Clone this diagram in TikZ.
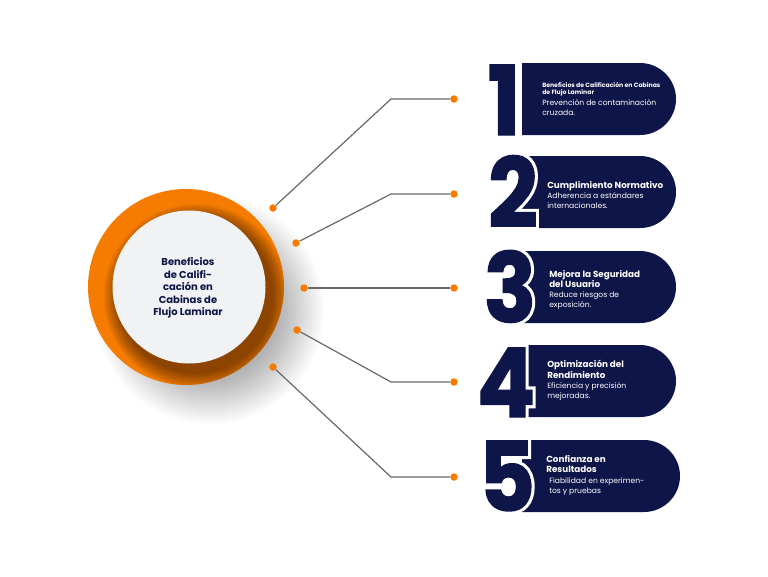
\documentclass[tikz,border=0pt]{standalone}
\usepackage{fontspec}
\setmainfont{Poppins}
\newfontfamily\digitfont{Poppins}[FakeStretch=0.9,FakeBold=1.5]
\newfontfamily\digitoutline{Poppins}[FakeStretch=0.9,FakeBold=8]
\usetikzlibrary{shapes.misc}
\definecolor{navy}{RGB}{14,21,72}
\definecolor{orng}{RGB}{245,124,0}
\definecolor{lnc}{RGB}{105,105,105}
\definecolor{disc}{RGB}{240,242,244}
\begin{document}
\begin{tikzpicture}[x=0.75pt,y=-0.75pt,
  dot/.style={circle,fill=orng,inner sep=0pt,minimum size=7.5*0.75pt},
  conn/.style={draw=lnc,line width=0.9pt},
  banner/.style={rounded rectangle,rounded rectangle left arc=none,fill=navy,minimum height=72*0.75pt,inner sep=0pt},
  digitw/.style={anchor=base,text=white,font=\digitoutline\fontsize{72}{72}\selectfont\bfseries,inner sep=0pt},
  digit/.style={anchor=base,text=navy,font=\digitfont\fontsize{72}{72}\selectfont\bfseries,inner sep=0pt},
  ttl/.style={anchor=north west,text=white,font=\fontsize{6.6}{7.9}\selectfont\bfseries,align=left,inner sep=0pt},
  ttlsmall/.style={anchor=north west,text=white,font=\fontsize{4.6}{5.6}\selectfont\bfseries,align=left,inner sep=0pt},
  bdy/.style={anchor=north west,text=white,font=\fontsize{5.7}{7.6}\selectfont,align=left,inner sep=0pt},
  ctext/.style={text=navy,font=\fontsize{7.5}{9.4}\selectfont\bfseries,align=center,inner sep=0pt}
]
\useasboundingbox (0,0) rectangle (768,576);
\fill[white] (0,0) rectangle (768,576);

% shadow of the big disc
\foreach \i in {0,...,24}{
  \fill[black,opacity=0.016] (210,310) circle ({114-\i*2.4});
}
% orange ring
\fill[orng] (186,287) circle (98);
% shadow of white disc on the ring
\begin{scope}
  \clip (186,287) circle (98);
  \foreach \i in {0,...,11}{
    \fill[black,opacity=0.045] (196,296) circle ({92-\i*1.3});
  }
\end{scope}
\fill[disc] (189,287) circle (76.5);
\node[ctext] (center) at (188,288) {Beneficios\\de Califi-\\cación en\\Cabinas de\\Flujo Laminar};

% connectors
\node[dot] (l1) at (273,208) {};
\node[dot] (l2) at (296,243) {};
\node[dot] (l3) at (304,288) {};
\node[dot] (l4) at (297,330) {};
\node[dot] (l5) at (273,367) {};
\node[dot] (r1) at (454,99) {};
\node[dot] (r2) at (454,194) {};
\node[dot] (r3) at (454,288) {};
\node[dot] (r4) at (454,382) {};
\node[dot] (r5) at (454,477) {};
\coordinate (e1) at (391,99);
\coordinate (e2) at (391,194);
\coordinate (e4) at (391,382);
\coordinate (e5) at (391,477);
\draw[conn] (l1) -- (e1) -- (r1);
\draw[conn] (l2) -- (e2) -- (r2);
\draw[conn] (l3) -- (r3);
\draw[conn] (l4) -- (e4) -- (r4);
\draw[conn] (l5) -- (e5) -- (r5);

% banners
\node[banner,minimum width=154*0.75pt] (b1) at (599,99) {};
\node[banner,minimum width=154*0.75pt] (b2) at (599,192) {};
\node[banner,minimum width=154*0.75pt] (b3) at (599,287) {};
\node[banner,minimum width=154*0.75pt] (b4) at (599,381) {};
\node[banner,minimum width=158*0.75pt] (b5) at (601,476) {};

% digits with white outline
\node[digitw] (w1) at (504,135) {1};
\node[digitw] (w2) at (513,227) {2};
\node[digitw] (w3) at (510,322) {3};
\node[digitw] (w4) at (506,417) {4};
\node[digitw] (w5) at (507,511) {5};
\node[digit] (d1) at (504,135) {1};
\node[digit] (d2) at (513,227) {2};
\node[digit] (d3) at (510,322) {3};
\node[digit] (d4) at (506,417) {4};
\node[digit] (d5) at (507,511) {5};

% texts
\node[ttlsmall] (t1) at (542,82) {Beneficios de Calificación en Cabinas\\de Flujo Laminar};
\node[bdy] (s1) at (542,99) {Prevención de contaminación\\cruzada.};
\node[ttl] (t2) at (547,181) {Cumplimiento Normativo};
\node[bdy] (s2) at (547,192) {Adherencia a estándares\\internacionales.};
\node[ttl] (t3) at (549,270) {Mejora la Seguridad\\del Usuario};
\node[bdy] (s3) at (549,291) {Reduce riesgos de\\exposición.};
\node[ttl] (t4) at (547,360) {Optimización del\\Rendimiento};
\node[bdy] (s4) at (547,382) {Eficiencia y precisión\\mejoradas.};
\node[ttl] (t5) at (546,455) {Confianza en\\Resultados};
\node[bdy] (s5) at (549,477) {Fiabilidad en experimen-\\tos y pruebas};
\end{tikzpicture}
\end{document}
